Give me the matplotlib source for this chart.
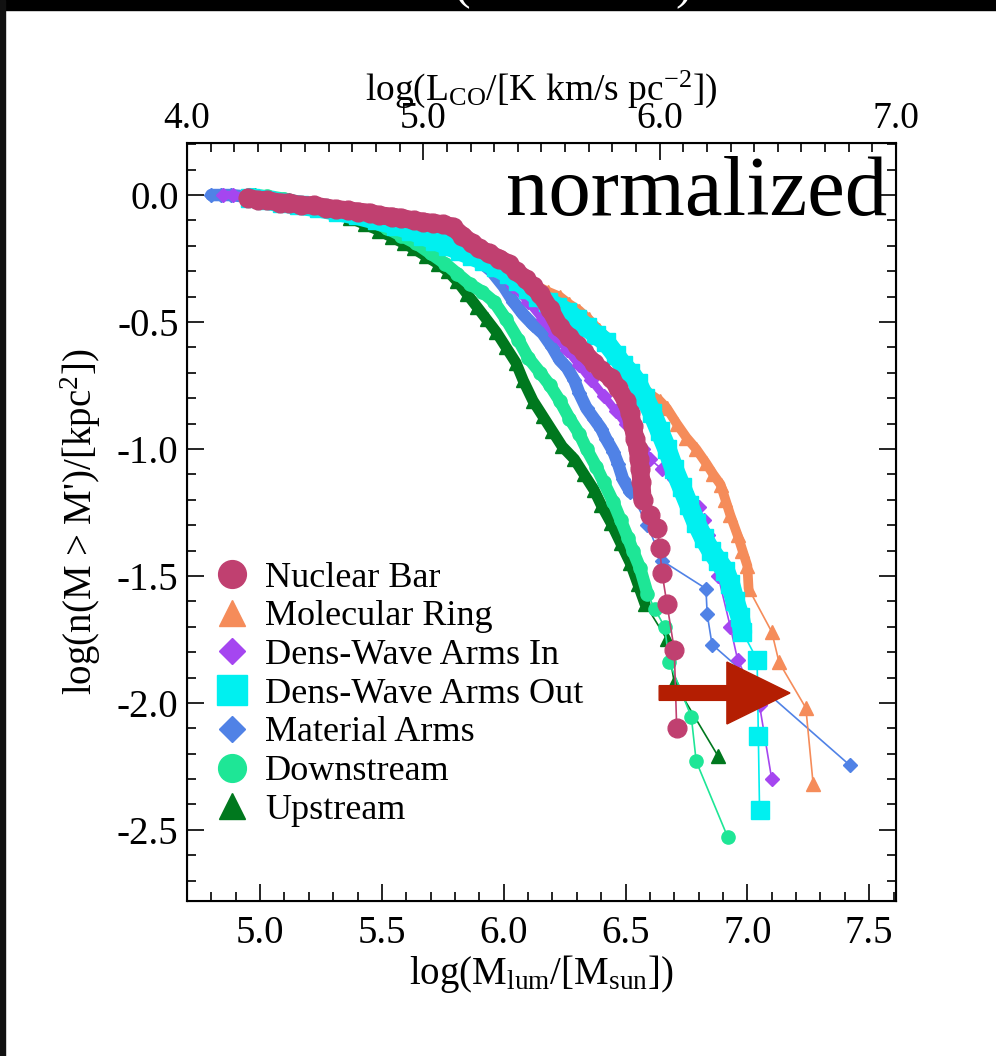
import matplotlib
matplotlib.use('Agg')
import matplotlib.pyplot as plt
from matplotlib.lines import Line2D
from matplotlib.patches import FancyArrow, Rectangle
from matplotlib.ticker import MultipleLocator, FormatStrFormatter

plt.rcParams['font.family'] = ['Liberation Serif', 'DejaVu Serif']
plt.rcParams['mathtext.fontset'] = 'custom'
plt.rcParams['mathtext.rm'] = 'Liberation Serif'
plt.rcParams['mathtext.it'] = 'Liberation Serif:italic'
plt.rcParams['axes.unicode_minus'] = False

# cumulative mass spectra, log(M_lum) vs log(n(>M)), normalized
nb_x = [4.95, 4.99, 5.03, 5.08, 5.12, 5.17, 5.22, 5.27, 5.31, 5.36, 5.40, 5.45, 5.49, 5.54, 5.58,
        5.63, 5.67, 5.71, 5.75, 5.79, 5.83, 5.87, 5.90, 5.94, 5.98, 6.02, 6.05, 6.09, 6.12, 6.15,
        6.19, 6.23, 6.27, 6.30, 6.33, 6.37, 6.40, 6.44, 6.47, 6.50, 6.52, 6.53, 6.54, 6.55, 6.555,
        6.56, 6.565, 6.57, 6.60, 6.63, 6.64, 6.65, 6.67, 6.70, 6.71]
nb_y = [-0.01, -0.02, -0.02, -0.03, -0.03, -0.04, -0.04, -0.05, -0.055, -0.06, -0.065, -0.07, -0.08, -0.085, -0.09,
        -0.10, -0.105, -0.11, -0.115, -0.125, -0.16, -0.19, -0.21, -0.23, -0.25, -0.27, -0.30, -0.33, -0.36, -0.39,
        -0.45, -0.52, -0.56, -0.59, -0.62, -0.66, -0.69, -0.72, -0.76, -0.81, -0.86, -0.91, -0.96, -1.00, -1.04,
        -1.08, -1.13, -1.20, -1.26, -1.31, -1.39, -1.49, -1.61, -1.79, -2.10]

mr_x = [4.98, 5.05, 5.12, 5.20, 5.28, 5.36, 5.44, 5.52, 5.60, 5.68, 5.76, 5.84, 5.92, 6.00, 6.06,
        6.12, 6.18, 6.23, 6.27, 6.31, 6.35, 6.39, 6.44, 6.48, 6.52, 6.57, 6.61, 6.64, 6.67, 6.71,
        6.75, 6.79, 6.83, 6.86, 6.89, 6.91, 6.93, 6.96, 6.98, 7.00, 7.005, 7.10, 7.13, 7.24, 7.27]
mr_y = [-0.01, -0.02, -0.03, -0.04, -0.05, -0.06, -0.07, -0.09, -0.11, -0.13, -0.15, -0.18, -0.22, -0.27, -0.31,
        -0.35, -0.38, -0.40, -0.43, -0.455, -0.49, -0.53, -0.575, -0.63, -0.69, -0.755, -0.79, -0.81, -0.84, -0.90,
        -0.955, -1.00, -1.055, -1.10, -1.14, -1.20, -1.26, -1.34, -1.40, -1.46, -1.55, -1.72, -1.84, -2.02, -2.32]

dwi_x = [4.85, 4.89, 4.95, 5.02, 5.10, 5.18, 5.26, 5.34, 5.42, 5.50, 5.58, 5.66, 5.74, 5.82, 5.90,
         5.97, 6.04, 6.10, 6.16, 6.21, 6.26, 6.31, 6.36, 6.41, 6.46, 6.50, 6.54, 6.57, 6.60, 6.65,
         6.70, 6.75, 6.80, 6.82, 6.84, 6.88, 6.93, 6.96, 7.05, 7.10]
dwi_y = [0.0, 0.0, -0.01, -0.02, -0.03, -0.04, -0.05, -0.06, -0.075, -0.09, -0.11, -0.13, -0.16, -0.20, -0.25,
         -0.30, -0.36, -0.42, -0.49, -0.55, -0.61, -0.67, -0.73, -0.79, -0.85, -0.90, -0.96, -1.00, -1.04, -1.08,
         -1.12, -1.17, -1.23, -1.28, -1.34, -1.50, -1.70, -1.83, -2.01, -2.30]

dwo_x = [4.96, 5.02, 5.09, 5.16, 5.24, 5.32, 5.40, 5.48, 5.56, 5.62, 5.67, 5.72, 5.77, 5.82, 5.87,
         5.92, 5.97, 6.02, 6.06, 6.10, 6.14, 6.18, 6.22, 6.26, 6.30, 6.34, 6.38, 6.42, 6.46, 6.49,
         6.52, 6.55, 6.58, 6.61, 6.64, 6.67, 6.70, 6.73, 6.76, 6.79, 6.82, 6.85, 6.88, 6.91, 6.93,
         6.95, 6.97, 6.98, 7.04, 7.045, 7.05]
dwo_y = [-0.01, -0.02, -0.03, -0.04, -0.05, -0.065, -0.08, -0.10, -0.12, -0.14, -0.16, -0.18, -0.20, -0.22, -0.24,
         -0.26, -0.285, -0.31, -0.34, -0.37, -0.40, -0.42, -0.44, -0.46, -0.49, -0.52, -0.55, -0.58, -0.63, -0.67,
         -0.70, -0.74, -0.80, -0.86, -0.93, -1.00, -1.08, -1.15, -1.22, -1.29, -1.35, -1.40, -1.44, -1.48, -1.53,
         -1.60, -1.66, -1.72, -1.83, -2.13, -2.42]

ma_x = [4.80, 4.84, 4.88, 4.93, 5.00, 5.08, 5.16, 5.24, 5.32, 5.40, 5.48, 5.56, 5.64, 5.71, 5.78,
        5.84, 5.90, 5.95, 6.00, 6.04, 6.08, 6.12, 6.16, 6.20, 6.23, 6.26, 6.29, 6.31, 6.34, 6.37,
        6.40, 6.42, 6.45, 6.47, 6.49, 6.52, 6.59, 6.65, 6.83, 6.835, 6.855, 7.42]
ma_y = [0.0, 0.0, 0.0, -0.005, -0.01, -0.02, -0.03, -0.045, -0.06, -0.08, -0.10, -0.125, -0.15, -0.18, -0.21,
        -0.235, -0.26, -0.30, -0.36, -0.42, -0.47, -0.51, -0.545, -0.60, -0.65, -0.68, -0.73, -0.78, -0.84, -0.88,
        -0.92, -0.96, -1.01, -1.06, -1.12, -1.17, -1.30, -1.44, -1.55, -1.65, -1.77, -2.245]

ds_x = [4.97, 5.03, 5.10, 5.17, 5.24, 5.31, 5.38, 5.45, 5.52, 5.58, 5.64, 5.70, 5.76, 5.81, 5.86,
        5.91, 5.96, 6.01, 6.06, 6.10, 6.15, 6.19, 6.23, 6.27, 6.31, 6.34, 6.38, 6.41, 6.45, 6.48,
        6.51, 6.53, 6.56, 6.59, 6.62, 6.66, 6.68, 6.77, 6.79, 6.92]
ds_y = [0.0, -0.005, -0.015, -0.03, -0.045, -0.06, -0.08, -0.10, -0.13, -0.16, -0.19, -0.23, -0.27, -0.31, -0.35,
        -0.38, -0.42, -0.49, -0.57, -0.64, -0.70, -0.75, -0.81, -0.88, -0.94, -1.00, -1.07, -1.13, -1.21, -1.28,
        -1.35, -1.40, -1.47, -1.57, -1.63, -1.70, -1.84, -2.055, -2.23, -2.53]

us_x = [4.98, 5.05, 5.12, 5.19, 5.25, 5.31, 5.37, 5.43, 5.49, 5.54, 5.59, 5.63, 5.68, 5.73, 5.77,
        5.81, 5.85, 5.89, 5.93, 5.97, 6.01, 6.05, 6.08, 6.12, 6.16, 6.20, 6.24, 6.29, 6.33, 6.37,
        6.40, 6.44, 6.48, 6.52, 6.55, 6.58, 6.67, 6.70, 6.88]
us_y = [0.0, -0.01, -0.02, -0.035, -0.05, -0.07, -0.09, -0.115, -0.14, -0.165, -0.19, -0.21, -0.24, -0.27, -0.30,
        -0.34, -0.39, -0.44, -0.49, -0.54, -0.60, -0.66, -0.73, -0.81, -0.87, -0.93, -0.99, -1.04, -1.10, -1.16,
        -1.22, -1.29, -1.37, -1.45, -1.53, -1.61, -1.75, -1.92, -2.21]

labels = ['Nuclear Bar', 'Molecular Ring', 'Dens-Wave Arms In', 'Dens-Wave Arms Out',
          'Material Arms', 'Downstream', 'Upstream']
series = [(nb_x, nb_y), (mr_x, mr_y), (dwi_x, dwi_y), (dwo_x, dwo_y),
          (ma_x, ma_y), (ds_x, ds_y), (us_x, us_y)]

# how many of the leading points of each series sit in the crowded part of the curve
n_dense = [48, 41, 29, 48, 36, 34, 36]

colors = ['#C04070', '#F58C5A', '#A546F0', '#00F0F0', '#5082E6', '#1EE696', '#00781E']
markers = ['o', '^', 'D', 's', 'D', 'o', '^']
sizes = [13.5, 10, 7, 13, 7.5, 9.5, 10.5]
band_lw = [13, 7, 6, 14, 9, 9, 8]
leg_sizes = [20, 19, 13, 22, 13, 20, 19]
draw_order = [6, 5, 4, 1, 2, 3, 0]

bot_ticks = [5.0, 5.5, 6.0, 6.5, 7.0, 7.5]
top_ticks = [4.0, 5.0, 6.0, 7.0]
y_ticks = [0.0, -0.5, -1.0, -1.5, -2.0, -2.5]

fig = plt.figure(figsize=(9.96, 10.56), dpi=100)
fig.patch.set_facecolor('white')
ax = fig.add_axes([0.1877, 0.1468, 0.7119, 0.7178])

for k, i in enumerate(draw_order):
    x, y = series[i]
    n = n_dense[i]
    z = 2 + k
    # overlapping symbols merge into a solid band where the points crowd together
    ax.plot(x[:n], y[:n], color=colors[i], lw=band_lw[i], solid_capstyle='round',
            solid_joinstyle='round', zorder=z)
    ax.plot(x, y, marker=markers[i], ms=sizes[i], color=colors[i], mec=colors[i],
            lw=1.2, zorder=z)

ax.set_xlim(4.70, 7.61)
ax.set_ylim(-2.78, 0.205)
ax.set_xticks(bot_ticks)
ax.set_yticks(y_ticks)
ax.xaxis.set_minor_locator(MultipleLocator(0.1))
ax.yaxis.set_minor_locator(MultipleLocator(0.1))
ax.xaxis.set_major_formatter(FormatStrFormatter('%.1f'))
ax.yaxis.set_major_formatter(FormatStrFormatter('%.1f'))
ax.tick_params(which='both', direction='in', top=False, right=True, width=1.2, labelsize=28)
ax.tick_params(which='major', length=12)
ax.tick_params(which='minor', length=6.5)
ax.tick_params(axis='x', pad=10)
ax.tick_params(axis='y', pad=6)
for s in ax.spines.values():
    s.set_linewidth(1.5)

ax.set_xlabel(r'log(M$_{\mathrm{lum}}$/[M$_{\mathrm{sun}}$])', fontsize=28, labelpad=1)
ax.set_ylabel(r"log(n(M > M')/[kpc$^{2}$])", fontsize=28, labelpad=10)

ax2 = ax.twiny()
ax2.set_xlim(4.0, 7.0)
ax2.set_xticks(top_ticks)
ax2.xaxis.set_minor_locator(MultipleLocator(0.1))
ax2.xaxis.set_major_formatter(FormatStrFormatter('%.1f'))
ax2.tick_params(which='both', direction='in', width=1.2, labelsize=27, pad=5)
ax2.tick_params(which='major', length=12)
ax2.tick_params(which='minor', length=6.5)
ax2.set_xlabel(r'log(L$_{\mathrm{CO}}$/[K km/s pc$^{-2}$])', fontsize=27, labelpad=1)

handles = [Line2D([], [], linestyle='none', marker=markers[i], ms=leg_sizes[i],
                  color=colors[i], mec=colors[i]) for i in range(len(labels))]
ax.legend(handles, labels, loc='upper left', bbox_to_anchor=(0.038, 0.448), frameon=False,
          fontsize=26, borderpad=0, borderaxespad=0, handlelength=1.0, handletextpad=0.42,
          labelspacing=0.15)

ax.text(0.987, 0.905, 'normalized', transform=ax.transAxes, fontsize=61,
        ha='right', va='baseline', color='black', zorder=20)

# red pointer arrow on the slide
ax.add_patch(FancyArrow(6.638, -1.961, 0.537, 0.0, width=0.058, head_width=0.244,
                        head_length=0.259, length_includes_head=True,
                        color='#B41E02', zorder=30))

# slide edges
fig.add_artist(Rectangle((0, 1 - 10 / 1056), 1, 10 / 1056, transform=fig.transFigure,
                         color='black', zorder=0))
fig.add_artist(Rectangle((0, 0), 5 / 996, 1, transform=fig.transFigure,
                         color='#111111', zorder=0))
fig.text(462 / 996, 1 - 9 / 1056, '(', color='white', fontsize=36, ha='center', va='bottom')
fig.text(684 / 996, 1 - 9 / 1056, ')', color='white', fontsize=36, ha='center', va='bottom')

fig.savefig('out.png', dpi=100)
